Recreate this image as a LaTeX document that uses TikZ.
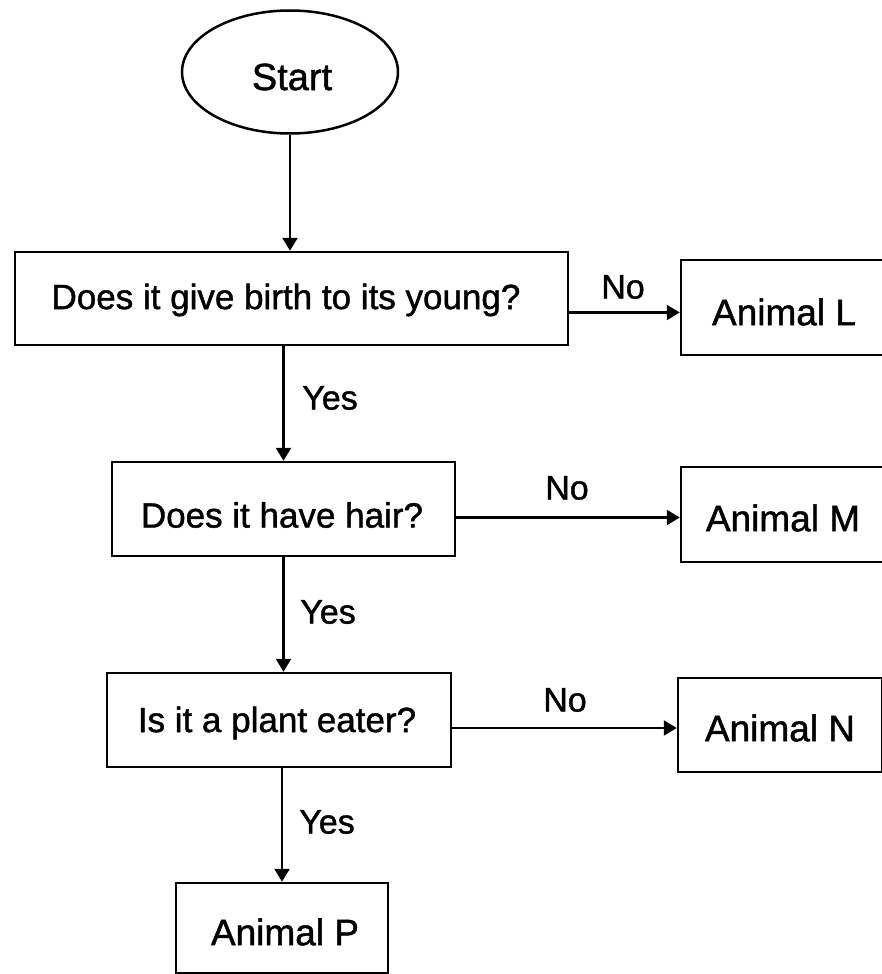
\documentclass[tikz,border=0pt]{standalone}
\usepackage{fontspec}
\setmainfont[FakeBold=1.2]{Liberation Sans}
\usetikzlibrary{shapes.geometric,arrows.meta}
\begin{document}
\begin{tikzpicture}[x=1pt,y=-1pt,
  box/.style={draw=black, line width=2.5pt, rectangle, inner sep=0pt},
  oval/.style={draw=black, line width=2.5pt, ellipse, inner sep=0pt, minimum width=216pt, minimum height=123pt},
  qtext/.style={font=\fontsize{35}{42}\selectfont},
  atext/.style={font=\fontsize{37}{44}\selectfont},
  lab/.style={inner sep=0pt, font=\fontsize{34}{40}\selectfont},
  arr/.style={line width=2.4pt, -{Triangle[length=13pt,width=15pt]}}
]
\useasboundingbox (0,0) rectangle (882,974);
\clip (0,0) rectangle (882,974);
\fill[white] (0,0) rectangle (882,974);

\node[oval] (start) at (290,72) {};
\node[inner sep=0pt, font=\fontsize{38}{44}\selectfont] (starttxt) at (292,77) {Start};

\node[box, minimum width=553pt, minimum height=93pt] (q1) at (291.5,298.5) {};
\node[qtext, inner sep=0pt] (q1t) at (286,300) {Does it give birth to its young?};

\node[box, minimum width=206pt, minimum height=95pt] (L) at (784,307.5) {};
\node[atext, inner sep=0pt] (Lt) at (784,312) {Animal L};

\node[box, minimum width=343pt, minimum height=94pt] (q2) at (283.5,509) {};
\node[qtext, inner sep=0pt] (q2t) at (282,515) {Does it have hair?};

\node[box, minimum width=204pt, minimum height=95pt] (M) at (783,514.5) {};
\node[atext, inner sep=0pt] (Mt) at (783,518) {Animal M};

\node[box, minimum width=344pt, minimum height=94pt] (q3) at (279,720) {};
\node[qtext, inner sep=0pt] (q3t) at (277,723) {Is it a plant eater?};

\node[box, minimum width=204pt, minimum height=94pt] (N) at (780,725) {};
\node[atext, inner sep=0pt] (Nt) at (780,728) {Animal N};

\node[box, minimum width=212pt, minimum height=90pt] (P) at (282,928) {};
\node[atext, inner sep=0pt] (Pt) at (285,932) {Animal P};

% connectors
\draw[arr] (start.south) -- (start.south |- q1.north);
\draw[arr] (q2.north |- q1.south) -- (q2.north);
\draw[arr] (q2.south) -- (q2.south |- q3.north);
\draw[arr] (P.north |- q3.south) -- (P.north);

\draw[arr] ([yshift=-5pt]q1.east |- L.west) -- ([yshift=-5pt]L.west);
\draw[arr] ([yshift=-3pt]q2.east |- M.west) -- ([yshift=-3pt]M.west);
\draw[arr] ([yshift=-3pt]q3.east |- N.west) -- ([yshift=-3pt]N.west);

% labels
\node[lab] (no1) at (623,287) {No};
\node[lab] (no2) at (567,488) {No};
\node[lab] (no3) at (565,700) {No};
\node[lab] (yes1) at (330,398) {Yes};
\node[lab] (yes2) at (328,612) {Yes};
\node[lab] (yes3) at (327,822) {Yes};
\end{tikzpicture}
\end{document}
